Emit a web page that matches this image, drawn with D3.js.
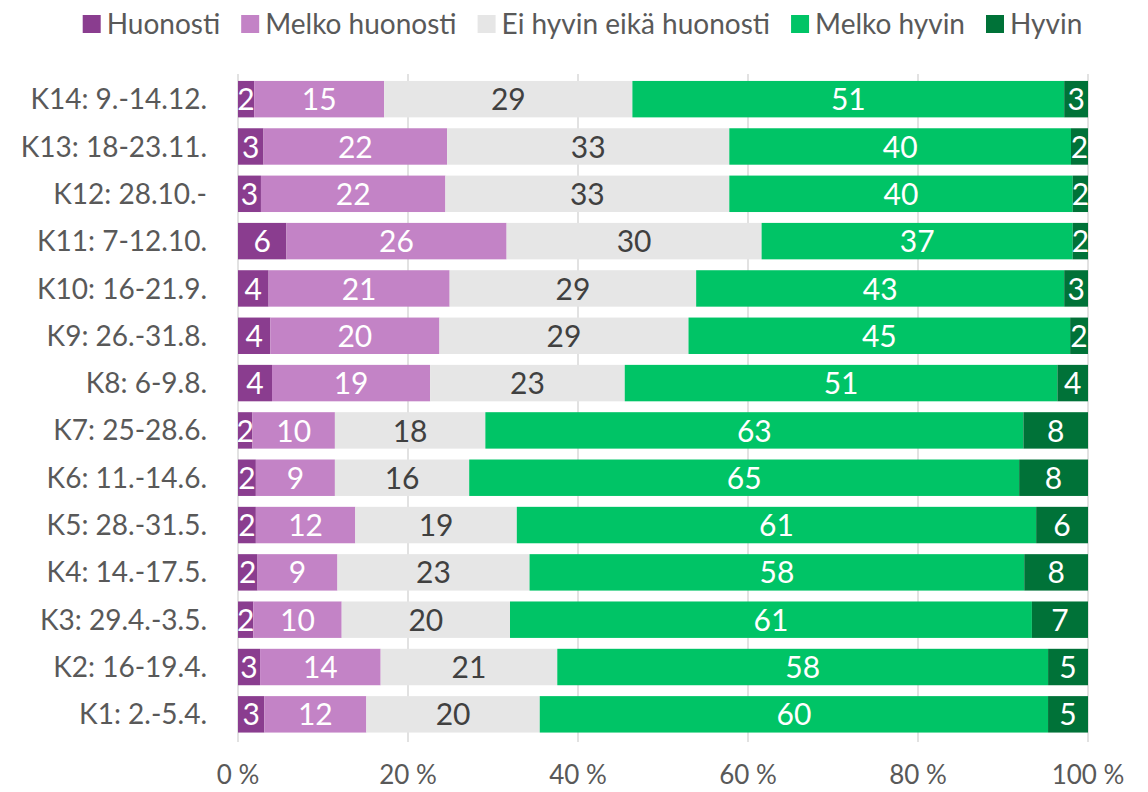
<!DOCTYPE html>
<html lang="fi">
  <head>
    <meta charset="UTF-8" />
    <title>Kyselykierrokset</title>
    <style>
      body {
        margin: 0;
        padding: 0;
        background: #ffffff;
        font-family: Lato, "Open Sans", sans-serif;
      }
      #chart text {
        font-family: Lato, "Open Sans", sans-serif;
      }
    </style>
  </head>
  <body>
    <svg id="chart"></svg>

    <script src="https://d3js.org/d3.v7.min.js"></script>
    <script>
      const width = 1148;
      const height = 792;

      // rounds, top to bottom
      const rounds = [
        "K14: 9.-14.12.",
        "K13: 18-23.11.",
        "K12: 28.10.-",
        "K11: 7-12.10.",
        "K10: 16-21.9.",
        "K9: 26.-31.8.",
        "K8: 6-9.8.",
        "K7: 25-28.6.",
        "K6: 11.-14.6.",
        "K5: 28.-31.5.",
        "K4: 14.-17.5.",
        "K3: 29.4.-3.5.",
        "K2: 16-19.4.",
        "K1: 2.-5.4."
      ];

      const seriesNames = [
        "Huonosti",
        "Melko huonosti",
        "Ei hyvin eikä huonosti",
        "Melko hyvin",
        "Hyvin"
      ];

      // share of answers (%), same order as rounds
      const huonosti = [1.9, 3.0, 2.7, 5.7, 3.6, 3.8, 4.0, 1.7, 2.1, 2.1, 2.3, 1.8, 2.6, 3.1];
      const melkoHuonosti = [15.3, 21.6, 21.7, 25.9, 21.3, 19.9, 18.6, 9.7, 9.3, 11.7, 9.4, 10.4, 14.2, 12.0];
      const eiHyvinEikaHuonosti = [29.2, 33.2, 33.4, 30.0, 29.0, 29.3, 22.9, 17.7, 15.8, 19.0, 22.6, 19.8, 20.8, 20.4];
      const melkoHyvin = [50.8, 40.2, 40.4, 36.6, 43.3, 44.9, 50.9, 63.3, 64.7, 61.1, 58.2, 61.4, 57.8, 59.8];
      const hyvin = [2.8, 2.0, 1.8, 1.8, 2.8, 2.1, 3.6, 7.6, 8.1, 6.1, 7.5, 6.6, 4.7, 4.7];

      const xTicks = [0, 0.2, 0.4, 0.6, 0.8, 1];

      const colors = ["#8a3d8f", "#c383c6", "#e6e6e6", "#00c466", "#007238"];
      const labelColors = ["#ffffff", "#ffffff", "#404040", "#ffffff", "#ffffff"];

      const columns = [huonosti, melkoHuonosti, eiHyvinEikaHuonosti, melkoHyvin, hyvin];
      const rows = rounds.map((r, i) => {
        const row = { round: r };
        seriesNames.forEach((s, j) => (row[s] = columns[j][i]));
        return row;
      });

      const svg = d3.select("#chart").attr("width", width).attr("height", height);

      const x = d3.scaleLinear().domain([0, 1]).range([238, 1088]);
      const y = d3
        .scaleBand()
        .domain(rounds)
        .range([75.5, 738])
        .paddingInner(0.23)
        .paddingOuter(0.115);

      const stack = d3.stack().keys(seriesNames).offset(d3.stackOffsetExpand);
      const series = stack(rows);

      // grid lines
      svg
        .append("g")
        .selectAll("line")
        .data(xTicks)
        .join("line")
        .attr("x1", (d) => x(d))
        .attr("x2", (d) => x(d))
        .attr("y1", 74)
        .attr("y2", 742)
        .attr("stroke", "#d9d9d9")
        .attr("stroke-width", 1.5);

      // bars
      const groups = svg
        .append("g")
        .selectAll("g")
        .data(series)
        .join("g")
        .attr("fill", (d, i) => colors[i]);

      groups
        .selectAll("rect")
        .data((d) => d)
        .join("rect")
        .attr("x", (d) => x(d[0]))
        .attr("y", (d) => y(d.data.round))
        .attr("width", (d) => x(d[1]) - x(d[0]))
        .attr("height", y.bandwidth());

      // value labels
      series.forEach((s, i) => {
        svg
          .append("g")
          .selectAll("text")
          .data(s)
          .join("text")
          .attr("x", (d) => (x(d[0]) + x(d[1])) / 2)
          .attr("y", (d) => y(d.data.round) + y.bandwidth() / 2)
          .attr("dy", "0.37em")
          .attr("text-anchor", "middle")
          .attr("fill", labelColors[i])
          .style("font-size", "30px")
          .text((d) => Math.round(d.data[s.key]));
      });

      // category labels
      svg
        .append("g")
        .selectAll("text")
        .data(rounds)
        .join("text")
        .attr("x", 207)
        .attr("y", (d) => y(d) + y.bandwidth() / 2)
        .attr("dy", "0.36em")
        .attr("text-anchor", "end")
        .attr("fill", "#595959")
        .style("font-size", "28px")
        .text((d) => d);

      // x axis labels
      svg
        .append("g")
        .selectAll("text")
        .data(xTicks)
        .join("text")
        .attr("x", (d) => x(d))
        .attr("y", 784)
        .attr("text-anchor", "middle")
        .attr("fill", "#595959")
        .style("font-size", "26px")
        .text((d) => Math.round(d * 100) + " %");

      // legend, centred over the plot
      const legend = svg.append("g");
      let lx = 0;
      seriesNames.forEach((name, i) => {
        const item = legend.append("g").attr("transform", `translate(${lx},0)`);
        item
          .append("rect")
          .attr("x", 0)
          .attr("y", 15)
          .attr("width", 18)
          .attr("height", 18)
          .attr("fill", colors[i]);
        const t = item
          .append("text")
          .attr("x", 24)
          .attr("y", 24)
          .attr("dy", "0.36em")
          .attr("fill", "#595959")
          .style("font-size", "28px")
          .text(name);
        lx += 24 + t.node().getComputedTextLength() + 21;
      });
      const legendWidth = lx - 21;
      legend.attr("transform", `translate(${(76 + 1089 - legendWidth) / 2},0)`);
    </script>
  </body>
</html>
